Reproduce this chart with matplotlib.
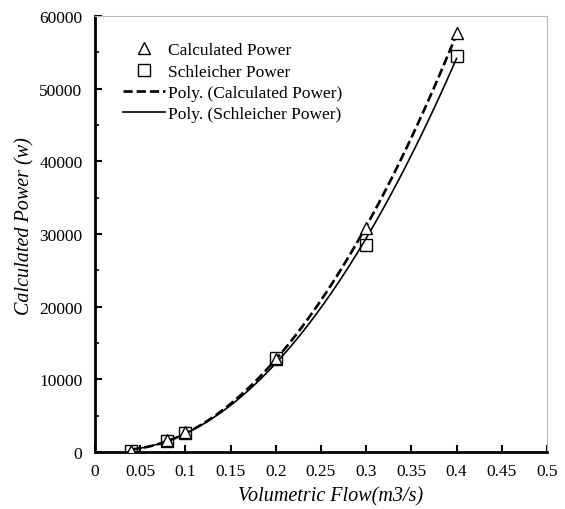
import numpy as np
import matplotlib
matplotlib.use("Agg")
import matplotlib.pyplot as plt
from matplotlib.ticker import MultipleLocator

flow = [0.04, 0.08, 0.1, 0.2, 0.3, 0.4]
calc_power = [150, 1600, 2700, 12800, 30800, 57600]
schl_power = [150, 1500, 2600, 12900, 28500, 54500]
x_ticks = [0, 0.05, 0.1, 0.15, 0.2, 0.25, 0.3, 0.35, 0.4, 0.45, 0.5]
x_tick_labels = ["0", "0.05", "0.1", "0.15", "0.2", "0.25", "0.3", "0.35", "0.4", "0.45", "0.5"]
y_ticks = [0, 10000, 20000, 30000, 40000, 50000, 60000]

plt.rcParams['font.family'] = ['Liberation Serif', 'DejaVu Serif']

fig = plt.figure(figsize=(5.65, 5.1), dpi=100)
ax = fig.add_axes([0.1681, 0.1118, 0.8, 0.8549])

xs = np.linspace(min(flow), max(flow), 200)
pc = np.polyfit(flow, calc_power, 2)
ps = np.polyfit(flow, schl_power, 2)

ax.plot(flow, calc_power, linestyle='none', marker='^', markersize=8, markerfacecolor='white',
        markeredgecolor='black', markeredgewidth=1.0, label='Calculated Power', zorder=3)
ax.plot(flow, schl_power, linestyle='none', marker='s', markersize=9, markerfacecolor='none',
        markeredgecolor='black', markeredgewidth=1.0, label='Schleicher Power', zorder=3)
ax.plot(xs, np.polyval(pc, xs), color='black', linestyle=(0, (3.5, 1.5)), linewidth=1.9,
        label='Poly. (Calculated Power)')
ax.plot(xs, np.polyval(ps, xs), color='black', linestyle='-', linewidth=1.2,
        label='Poly. (Schleicher Power)')

ax.set_xlim(0, 0.5)
ax.set_ylim(0, 60000)
ax.set_xticks(x_ticks)
ax.set_xticklabels(x_tick_labels)
ax.set_yticks(y_ticks)
ax.yaxis.set_minor_locator(MultipleLocator(5000))
ax.tick_params(axis='both', which='major', direction='in', length=5, width=1.5, labelsize=12.5)
ax.tick_params(axis='x', which='major', pad=8)
ax.tick_params(axis='y', which='major', pad=9)
ax.tick_params(axis='y', which='minor', direction='in', length=3, width=1.2)

for s in ['left', 'bottom']:
    ax.spines[s].set_linewidth(2)
    ax.spines[s].set_color('black')
for s in ['top', 'right']:
    ax.spines[s].set_linewidth(0.8)
    ax.spines[s].set_color('#bbbbbb')

ax.set_xlabel('Volumetric Flow(m3/s)', fontsize=14.5, style='italic')
ax.xaxis.set_label_coords(0.522, -0.1, transform=ax.transAxes)
ax.xaxis.label.set_verticalalignment('center')
ax.set_ylabel('Calculated Power (w)', fontsize=14.5, style='italic')
ax.yaxis.set_label_coords(-0.155, 0.52, transform=ax.transAxes)
ax.yaxis.label.set_verticalalignment('center')

ax.legend(loc='upper left', bbox_to_anchor=(0.062, 0.94), frameon=False, fontsize=12.5,
          borderaxespad=0, borderpad=0,
          handlelength=2.4, handletextpad=0.2, labelspacing=0.3)

fig.savefig('out.png', dpi=100)
